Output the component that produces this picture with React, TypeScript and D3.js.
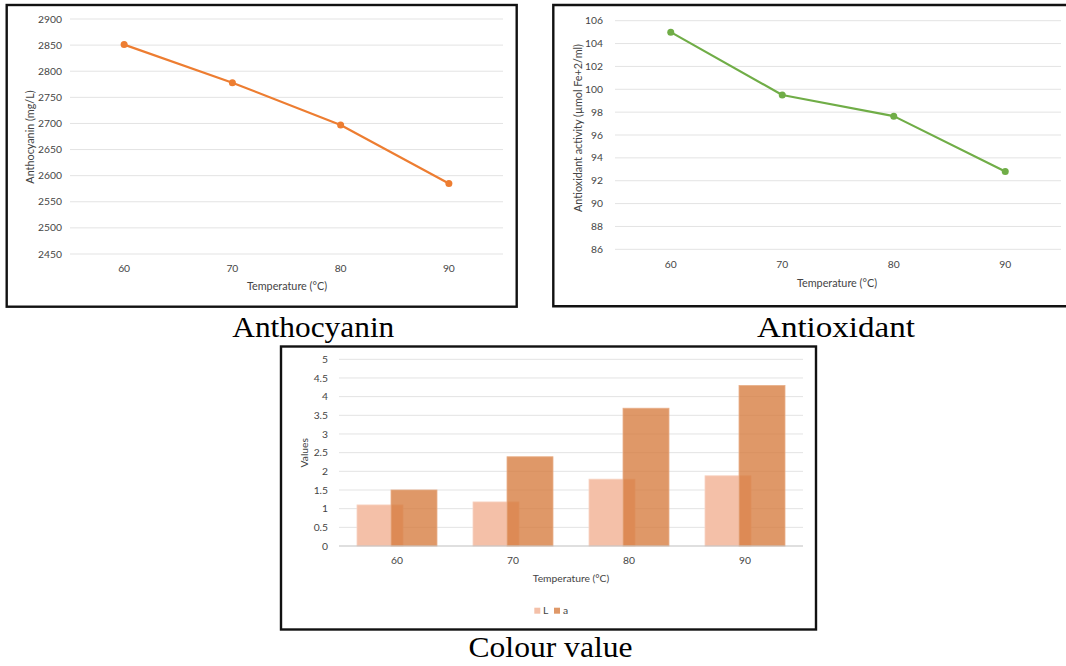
import React from "react";
import * as d3 from "d3";

const temperatures = ["60", "70", "80", "90"];
const anthocyanin = [2851, 2778, 2697, 2585];
const antioxidant = [105.0, 99.5, 97.65, 92.8];
const colourL = [1.1, 1.18, 1.79, 1.88];
const colourA = [1.5, 2.39, 3.69, 4.3];
const anthoTicks = [2450, 2500, 2550, 2600, 2650, 2700, 2750, 2800, 2850, 2900];
const antioxTicks = [86, 88, 90, 92, 94, 96, 98, 100, 102, 104, 106];
const colourTicks = [0, 0.5, 1, 1.5, 2, 2.5, 3, 3.5, 4, 4.5, 5];

const FONT = "Lato, 'Open Sans', sans-serif";
const SERIF = "'Liberation Serif', 'Times New Roman', serif";
const GRID = "#E3E3E3";
const TXT = "#444444";

function LineChart(props: {
  values: number[];
  ticks: number[];
  xRange: [number, number];
  yRange: [number, number];
  tickX: number;
  xLabelY: number;
  xTitle: [number, number];
  yTitle: [number, number];
  yTitleText: string;
  color: string;
}) {
  const { values, ticks, xRange, yRange, tickX, xLabelY, xTitle, yTitle, yTitleText, color } = props;
  const x = d3.scaleBand<string>().domain(temperatures).range(xRange);
  const y = d3.scaleLinear().domain([ticks[0], ticks[ticks.length - 1]]).range(yRange);
  const cx = (t: string) => (x(t) as number) + x.bandwidth() / 2;
  const line = d3
    .line<number>()
    .x((_, i) => cx(temperatures[i]))
    .y((d) => y(d));
  return (
    <g>
      {ticks.map((t) => (
        <g key={t}>
          <line x1={xRange[0]} x2={xRange[1]} y1={y(t)} y2={y(t)} stroke={GRID} strokeWidth={1} />
          <text x={tickX} y={y(t)} dy="0.35em" textAnchor="end" fontSize={10.3} fill={TXT} fontFamily={FONT}>
            {t}
          </text>
        </g>
      ))}
      {temperatures.map((t) => (
        <text key={t} x={cx(t)} y={xLabelY} dy="0.35em" textAnchor="middle" fontSize={10.3} fill={TXT} fontFamily={FONT}>
          {t}
        </text>
      ))}
      <text x={xTitle[0]} y={xTitle[1]} dy="0.35em" textAnchor="middle" fontSize={10.8} fill={TXT} fontFamily={FONT}>
        Temperature (°C)
      </text>
      <text
        transform={`translate(${yTitle[0]},${yTitle[1]}) rotate(-90)`}
        dy="0.35em"
        textAnchor="middle"
        fontSize={10.8}
        fill={TXT}
        fontFamily={FONT}
      >
        {yTitleText}
      </text>
      <path d={line(values) as string} fill="none" stroke={color} strokeWidth={2.2} strokeLinejoin="round" />
      {values.map((v, i) => (
        <circle key={i} cx={cx(temperatures[i])} cy={y(v)} r={3.5} fill={color} />
      ))}
    </g>
  );
}

function BarChart() {
  const xRange: [number, number] = [339, 803];
  const x = d3.scaleBand<string>().domain(temperatures).range(xRange);
  const y = d3.scaleLinear().domain([0, 5]).range([546, 359.3]);
  const cx = (t: string) => (x(t) as number) + x.bandwidth() / 2;
  const bw = 46;
  return (
    <g>
      {colourTicks.map((t) => (
        <g key={t}>
          {t !== 0 && (
            <line x1={xRange[0]} x2={xRange[1]} y1={y(t)} y2={y(t)} stroke={GRID} strokeWidth={1} />
          )}
          <text x={328} y={y(t)} dy="0.35em" textAnchor="end" fontSize={10.3} fill={TXT} fontFamily={FONT}>
            {d3.format("~g")(t)}
          </text>
        </g>
      ))}
      {temperatures.map((t, i) => (
        <g key={t}>
          <rect x={cx(t) - 40} y={y(colourL[i])} width={bw} height={y(0) - y(colourL[i])} fill="#F4C0A8" stroke="#F7D3C2" strokeWidth={0.8} />
          <rect
            x={cx(t) - 6}
            y={y(colourA[i])}
            width={bw}
            height={y(0) - y(colourA[i])}
            fill="#D67B3E"
            fillOpacity={0.78}
            stroke="#E8B08A"
            strokeWidth={0.8}
          />
          <text x={cx(t)} y={560.7} dy="0.35em" textAnchor="middle" fontSize={10.3} fill={TXT} fontFamily={FONT}>
            {t}
          </text>
        </g>
      ))}
      <line x1={xRange[0]} x2={xRange[1]} y1={y(0)} y2={y(0)} stroke="#BFBFBF" strokeWidth={1.2} />
      <text x={571} y={578} dy="0.35em" textAnchor="middle" fontSize={10.3} fill={TXT} fontFamily={FONT}>
        Temperature (°C)
      </text>
      <text transform="translate(304,452.7) rotate(-90)" dy="0.35em" textAnchor="middle" fontSize={10.3} fill={TXT} fontFamily={FONT}>
        Values
      </text>
      <rect x={534.3} y={607.7} width={6} height={6} fill="#F4C0A8" />
      <text x={543} y={610.7} dy="0.35em" fontSize={10.3} fill={TXT} fontFamily={FONT}>
        L
      </text>
      <rect x={554} y={607.7} width={6} height={6} fill="#D67B3E" fillOpacity={0.78} />
      <text x={563} y={610.7} dy="0.35em" fontSize={10.3} fill={TXT} fontFamily={FONT}>
        a
      </text>
    </g>
  );
}

export default function App() {
  return (
    <svg
      width={1066}
      height={666}
      style={{ position: "absolute", left: 0, top: 0, background: "#fff" }}
    >
      <rect x={0} y={0} width={1066} height={666} fill="#fff" />
      <rect x={6.7} y={5} width={510} height={301.7} fill="none" stroke="#111" strokeWidth={2.4} />
      <LineChart
        values={anthocyanin}
        ticks={anthoTicks}
        xRange={[70, 503]}
        yRange={[254, 19]}
        tickX={62}
        xLabelY={268}
        xTitle={[287, 286]}
        yTitle={[30, 137]}
        yTitleText="Anthocyanin (mg/L)"
        color="#ED7D31"
      />
      <path d="M1066,5 H553.3 V306.3 H1066" fill="none" stroke="#111" strokeWidth={2.4} />
      <LineChart
        values={antioxidant}
        ticks={antioxTicks}
        xRange={[615, 1061]}
        yRange={[249.3, 20.7]}
        tickX={603}
        xLabelY={264}
        xTitle={[837, 283]}
        yTitle={[578, 128]}
        yTitleText="Antioxidant activity (µmol Fe+2/ml)"
        color="#70AD47"
      />
      <rect x={281} y={346.5} width={535} height={283} fill="none" stroke="#111" strokeWidth={2.4} />
      <BarChart />
      <text x={313.3} y={337.3} textAnchor="middle" fontSize={29} fontFamily={SERIF} fill="#000" textLength={162} lengthAdjust="spacingAndGlyphs">
        Anthocyanin
      </text>
      <text x={836} y={336.7} textAnchor="middle" fontSize={29} fontFamily={SERIF} fill="#000" textLength={158} lengthAdjust="spacingAndGlyphs">
        Antioxidant
      </text>
      <text x={550.5} y={656.7} textAnchor="middle" fontSize={29} fontFamily={SERIF} fill="#000" textLength={164} lengthAdjust="spacingAndGlyphs">
        Colour value
      </text>
    </svg>
  );
}
